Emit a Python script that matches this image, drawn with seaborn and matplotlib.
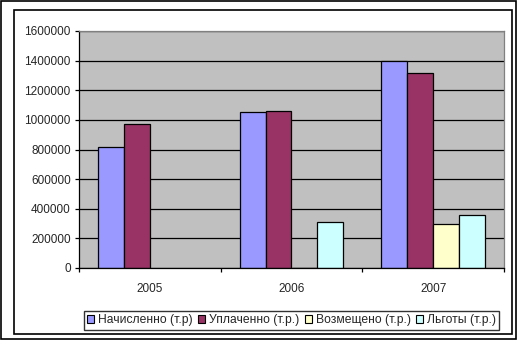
import numpy as np
import pandas as pd
import seaborn as sns
import matplotlib
matplotlib.use("Agg")
import matplotlib.pyplot as plt
from matplotlib.patches import Rectangle, Patch

years = ["2005", "2006", "2007"]
series = ["Начисленно (т.р)", "Уплаченно (т.р.)", "Возмещено (т.р.)", "Льготы (т.р.)"]
nachisleno = [820000, 1050000, 1400000]
uplacheno = [970000, 1060000, 1315000]
vozmescheno = [np.nan, 0, 295000]
lgoty = [np.nan, 310000, 356000]
colors = ["#9999FF", "#993366", "#FFFFCC", "#CCFFFF"]
yticks = [0, 200000, 400000, 600000, 800000, 1000000, 1200000, 1400000, 1600000]

rows = []
for name, vals in zip(series, [nachisleno, uplacheno, vozmescheno, lgoty]):
    for y, v in zip(years, vals):
        rows.append({"year": y, "series": name, "value": v})
df = pd.DataFrame(rows)

sns.set_style("white")
plt.rcParams["font.family"] = ["Liberation Sans", "DejaVu Sans"]
plt.rcParams["font.size"] = 8.5

fig = plt.figure(figsize=(5.19, 3.41), dpi=100)
W, H = 519, 341
ax = fig.add_axes([79 / W, 1 - 268 / H, (504 - 79) / W, (268 - 31) / H])

sns.barplot(data=df, x="year", y="value", hue="series", palette=colors,
            width=0.734, edgecolor="black", linewidth=0.9, ax=ax,
            legend=False, errorbar=None, saturation=1)

ax.set_facecolor("#C0C0C0")
ax.set_xlim(-0.5, 2.5)
ax.set_ylim(0, 1600000)
ax.set_yticks(yticks)
ax.set_yticklabels([str(t) for t in yticks])
ax.yaxis.grid(True, color="black", linewidth=0.9)
ax.set_axisbelow(True)
ax.set_xlabel("")
ax.set_ylabel("")

for s in ["top", "right"]:
    ax.spines[s].set_color("#808080")
    ax.spines[s].set_linewidth(0.9)
for s in ["left", "bottom"]:
    ax.spines[s].set_color("black")
    ax.spines[s].set_linewidth(0.9)

ax.tick_params(axis="y", direction="out", length=3, width=0.9, pad=3, color="black", left=True)
ax.set_xticks([0, 1, 2])
ax.set_xticks([-0.5, 0.5, 1.5, 2.5], minor=True)
ax.tick_params(axis="x", which="major", length=0, pad=11)
ax.tick_params(axis="x", which="minor", direction="out", length=3, width=0.9, color="black", bottom=True)

# legend
handles = [Patch(facecolor=c, edgecolor="black", linewidth=0.8) for c in colors]
leg = fig.legend(handles, series, loc="center", ncol=4,
                 bbox_to_anchor=((86 + 497) / 2 / W, 1 - (309 + 332) / 2 / H),
                 frameon=True, fancybox=False, handlelength=0.6, handleheight=0.6,
                 handletextpad=0.3, columnspacing=0.45, borderpad=0.3,
                 fontsize=8.7)
leg.get_frame().set_edgecolor("black")
leg.get_frame().set_linewidth(1.0)

# frames
fig.patches.append(Rectangle((1 / W, 1 - 339 / H), 515 / W, 338 / H, transform=fig.transFigure,
                             fill=False, edgecolor="black", linewidth=1.2))
fig.patches.append(Rectangle((14 / W, 1 - 334 / H), 498 / W, 324 / H, transform=fig.transFigure,
                             fill=False, edgecolor="black", linewidth=1.2))

fig.savefig("out.png", dpi=100, facecolor="white")
